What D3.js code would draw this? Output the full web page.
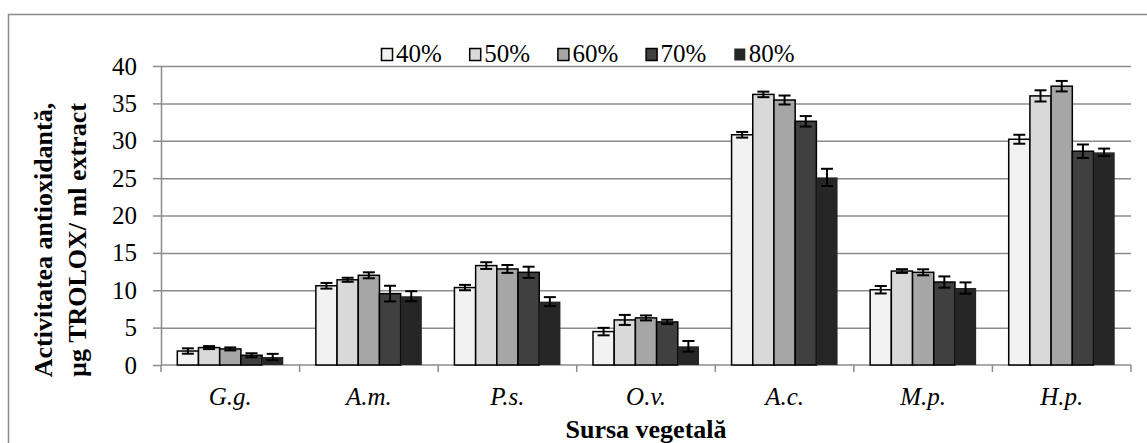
<!DOCTYPE html>
<head>
  <meta charset="utf-8">
  <script src="https://d3js.org/d3.v7.min.js"></script>
  <style>
    body { margin: 0; background: #fff; }
    svg text { font-family: "Liberation Serif", "Times New Roman", serif !important; fill: #000; }
    .grid line { stroke: #8c8c8c; stroke-width: 1.5px; }
    .grid .domain { display: none; }
    .axis line, .axis path { stroke: #8c8c8c; stroke-width: 1.5px; }
  </style>
</head>
<body>
  <div id="vis"></div>
  <script>

    var categories = ["G.g.", "A.m.", "P.s.", "O.v.", "A.c.", "M.p.", "H.p."];
    var seriesNames = ["40%", "50%", "60%", "70%", "80%"];
    var seriesColors = ["#f2f2f2", "#d9d9d9", "#a6a6a6", "#404040", "#262626"];
    var yTicks = [0, 5, 10, 15, 20, 25, 30, 35, 40];

    // one row per category, one column per series
    var values = [
      [1.87, 2.33, 2.15, 1.3, 1.07],
      [10.6, 11.4, 12.0, 9.55, 9.2],
      [10.36, 13.3, 12.85, 12.4, 8.48],
      [4.47, 6.03, 6.3, 5.76, 2.5],
      [30.8, 36.2, 35.45, 32.6, 25.1],
      [10.07, 12.57, 12.4, 11.1, 10.3],
      [30.2, 36.0, 37.3, 28.6, 28.45]
    ];
    var errors = [
      [0.36, 0.2, 0.2, 0.27, 0.42],
      [0.38, 0.27, 0.4, 1.05, 0.67],
      [0.36, 0.45, 0.53, 0.75, 0.6],
      [0.5, 0.67, 0.33, 0.29, 0.71],
      [0.38, 0.37, 0.6, 0.7, 1.15],
      [0.5, 0.25, 0.4, 0.75, 0.75],
      [0.6, 0.75, 0.7, 0.9, 0.5]
    ];

    var W = 1147, H = 443;
    var margin = { top: 66, right: 16, bottom: 78, left: 161 },
      width = W - margin.left - margin.right,
      height = H - margin.top - margin.bottom;
    var serif = '"Liberation Serif", "Times New Roman", serif';

    var svg = d3.select("#vis").append("svg")
      .attr("width", W)
      .attr("height", H)
      .attr("font-family", serif);

    // outer chart border
    svg.append("rect")
      .attr("x", 8.5).attr("y", 14.5)
      .attr("width", W + 20).attr("height", H + 20)
      .attr("fill", "none")
      .attr("stroke", "#8c8c8c")
      .attr("stroke-width", 1.5);

    var g = svg.append("g")
      .attr("transform", "translate(" + margin.left + "," + margin.top + ")");

    var x0 = d3.scaleBand()
      .domain(categories)
      .range([0, width])
      .paddingInner(0.235)
      .paddingOuter(0.1175);

    var x1 = d3.scaleBand()
      .domain(seriesNames)
      .range([0, x0.bandwidth()]);

    var y = d3.scaleLinear()
      .domain([0, 40])
      .range([height, 0]);

    ////////// grid + axes //////////

    g.append("g")
      .attr("class", "grid")
      .call(d3.axisLeft(y).tickValues(yTicks.slice(1)).tickSize(-width).tickFormat(""));

    var yAxis = g.append("g")
      .attr("class", "axis")
      .call(d3.axisLeft(y).tickValues(yTicks).tickSize(8).tickPadding(16).tickSizeOuter(0))
      .attr("font-family", serif);
    yAxis.selectAll("text")
      .style("font-family", serif)
      .style("font-size", "25px");

    // category separators under the x axis
    var bounds = d3.range(categories.length + 1).map(function (i) { return i * x0.step(); });
    var xAxis = g.append("g")
      .attr("class", "axis")
      .attr("transform", "translate(0," + height + ")");
    xAxis.append("line")
      .attr("x1", 0).attr("x2", width);
    xAxis.selectAll(".sep")
      .data(bounds)
      .enter().append("line")
      .attr("class", "sep")
      .attr("x1", function (d) { return d; })
      .attr("x2", function (d) { return d; })
      .attr("y1", 0).attr("y2", 7);

    xAxis.selectAll(".cat")
      .data(categories)
      .enter().append("text")
      .attr("class", "cat")
      .attr("x", function (d) { return x0(d) + x0.bandwidth() / 2; })
      .attr("y", 40)
      .attr("text-anchor", "middle")
      .style("font-family", serif)
      .style("font-size", "25px")
      .style("font-style", "italic")
      .text(function (d) { return d; });

    ////////// bars //////////

    var groups = g.selectAll(".group")
      .data(categories)
      .enter().append("g")
      .attr("class", "group")
      .attr("transform", function (d) { return "translate(" + x0(d) + ",0)"; });

    var cells = groups.selectAll(".cell")
      .data(function (d, i) {
        return seriesNames.map(function (s, j) {
          return { s: s, j: j, v: values[i][j], e: errors[i][j] };
        });
      })
      .enter().append("g")
      .attr("class", "cell");

    cells.append("rect")
      .attr("x", function (d) { return x1(d.s); })
      .attr("y", function (d) { return y(d.v); })
      .attr("width", x1.bandwidth())
      .attr("height", function (d) { return height - y(d.v); })
      .attr("fill", function (d) { return seriesColors[d.j]; })
      .attr("stroke", function (d) { return d.j == 4 ? "none" : "#000"; })
      .attr("stroke-width", 1.5);

    // error bars
    var cap = 6;
    cells.append("line")
      .attr("x1", function (d) { return x1(d.s) + x1.bandwidth() / 2; })
      .attr("x2", function (d) { return x1(d.s) + x1.bandwidth() / 2; })
      .attr("y1", function (d) { return y(d.v + d.e); })
      .attr("y2", function (d) { return y(d.v - d.e); })
      .attr("stroke", "#000").attr("stroke-width", 2);
    [1, -1].forEach(function (sgn) {
      cells.append("line")
        .attr("x1", function (d) { return x1(d.s) + x1.bandwidth() / 2 - cap; })
        .attr("x2", function (d) { return x1(d.s) + x1.bandwidth() / 2 + cap; })
        .attr("y1", function (d) { return y(d.v + sgn * d.e); })
        .attr("y2", function (d) { return y(d.v + sgn * d.e); })
        .attr("stroke", "#000").attr("stroke-width", 2);
    });

    ////////// legend //////////

    var legend = svg.append("g")
      .attr("transform", "translate(381,0)");
    var item = legend.selectAll(".item")
      .data(seriesNames)
      .enter().append("g")
      .attr("class", "item")
      .attr("transform", function (d, i) { return "translate(" + (i * 88.2) + ",0)"; });
    item.append("rect")
      .attr("x", 0.5).attr("y", 48.5)
      .attr("width", 11).attr("height", 12)
      .attr("fill", function (d, i) { return seriesColors[i]; })
      .attr("stroke", function (d, i) { return i == 4 ? "none" : "#000"; })
      .attr("stroke-width", 1.5);
    item.append("text")
      .attr("x", 15)
      .attr("y", 62)
      .style("font-family", serif)
      .style("font-size", "25px")
      .text(function (d) { return d; });

    ////////// titles //////////

    svg.append("text")
      .attr("x", margin.left + width / 2)
      .attr("y", 438)
      .attr("text-anchor", "middle")
      .style("font-family", serif)
      .style("font-size", "26px")
      .style("font-weight", "bold")
      .text("Sursa vegetală");

    var yTitle = svg.append("text")
      .attr("transform", "translate(52,240) rotate(-90)")
      .attr("text-anchor", "middle")
      .style("font-family", serif)
      .style("font-size", "26px")
      .style("font-weight", "bold");
    yTitle.append("tspan")
      .attr("x", 0).attr("y", 0)
      .text("Activitatea antioxidantă,");
    yTitle.append("tspan")
      .attr("x", 0).attr("y", 34)
      .text("µg TROLOX/ ml extract");

  </script>
</body>
